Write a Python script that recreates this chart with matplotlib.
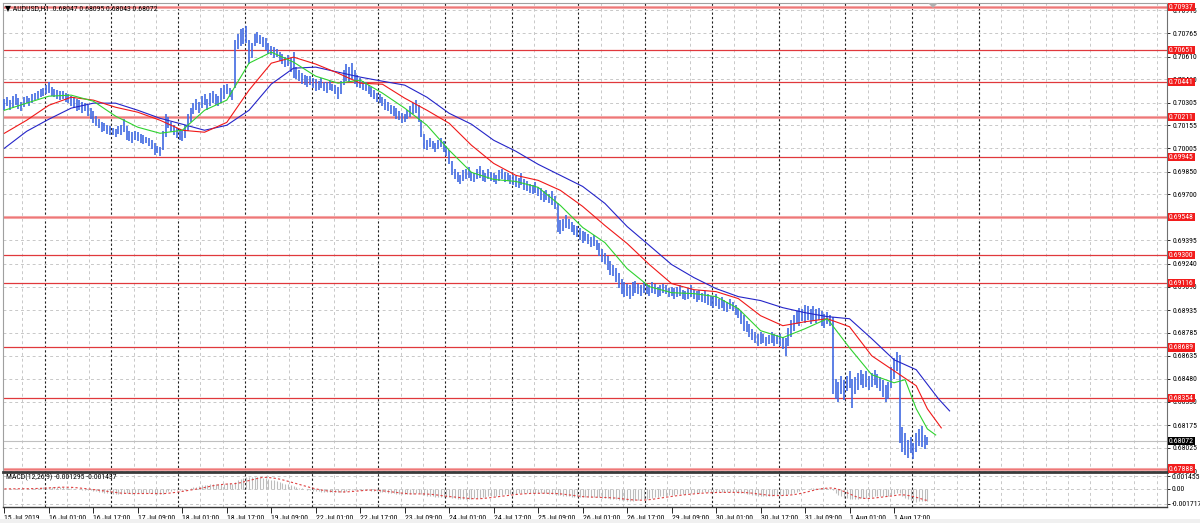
import numpy as np
import pandas as pd
import matplotlib
matplotlib.use("Agg")
import matplotlib.pyplot as plt
from matplotlib import font_manager as fm
from matplotlib.transforms import blended_transform_factory
from matplotlib.patches import Rectangle, Polygon

# ---------------- data (prices in points, 1 point = 0.00001) ----------------
POINT = 1e-5

# hourly bars 15 Jul 2019 09:00 ... 2 Aug 2019 05:00 (weekends skipped)
LOW_PTS = [
    # 15 Jul
    70260, 70280, 70255, 70270, 70290, 70265, 70250, 70275, 70300, 70280, 70300, 70320, 70330, 70340, 70350,
    # 16 Jul
    70360, 70370, 70350, 70340, 70330, 70320, 70330, 70310, 70300, 70280, 70270, 70250, 70260, 70240, 70250, 70220,
    70200, 70170, 70150, 70140, 70110, 70120, 70100, 70090,
    # 17 Jul
    70090, 70080, 70100, 70090, 70110, 70060, 70050, 70040, 70060, 70050, 70040, 70030, 70040, 70020, 70000, 69960,
    69970, 69950, 69990, 70080, 70140, 70110, 70090, 70070,
    # 18 Jul
    70060, 70050, 70070, 70120, 70180, 70230, 70260, 70240, 70270, 70290, 70260, 70280, 70300, 70290, 70280, 70300,
    70330, 70360, 70340, 70320, 70400, 70660, 70680, 70690,
    # 19 Jul
    70700, 70560, 70600, 70680, 70700, 70690, 70670, 70650, 70630, 70620, 70600, 70610, 70580, 70560, 70540, 70550,
    70510, 70470, 70460, 70450, 70430, 70420, 70410, 70420,
    # 22 Jul
    70400, 70380, 70390, 70400, 70380, 70370, 70390, 70380, 70360, 70330, 70360, 70420, 70450, 70440, 70460, 70430,
    70410, 70400, 70390, 70380, 70360, 70340, 70330, 70310,
    # 23 Jul
    70300, 70280, 70260, 70250, 70230, 70220, 70200, 70190, 70170, 70180, 70200, 70210, 70230, 70240, 70180, 70080,
    70000, 69990, 70010, 70000, 69980, 70000, 70010, 69980,
    # 24 Jul
    69950, 69900, 69830, 69800, 69780, 69770, 69790, 69800, 69810, 69790, 69780, 69800, 69810, 69790, 69780, 69800,
    69790, 69780, 69770, 69790, 69800, 69780, 69790, 69770,
    # 25 Jul
    69760, 69750, 69740, 69760, 69730, 69720, 69710, 69700, 69710, 69690, 69660, 69650, 69660, 69640, 69630, 69600,
    69450, 69440, 69460, 69480, 69470, 69450, 69430, 69420,
    # 26 Jul
    69400, 69380, 69390, 69370, 69350, 69360, 69330, 69290, 69250, 69240, 69200, 69170, 69160, 69120, 69080, 69040,
    69020, 69030, 69010, 69030, 69050, 69040, 69030, 69050,
    # 29 Jul
    69040, 69030, 69050, 69040, 69020, 69030, 69050, 69040, 69020, 69030, 69010, 69020, 69030, 69010, 69000, 69010,
    69020, 69010, 68990, 69000, 68990, 68980, 68970, 68960,
    # 30 Jul
    68950, 68960, 68940, 68950, 68930, 68920, 68940, 68930, 68900, 68880, 68840, 68800, 68790, 68760, 68740, 68720,
    68700, 68710, 68720, 68700, 68710, 68720, 68700, 68710,
    # 31 Jul
    68700, 68680, 68630, 68700, 68760, 68800, 68840, 68830, 68860, 68850, 68870, 68840, 68860, 68850, 68870, 68830,
    68820, 68840, 68830, 68380, 68350, 68330, 68380, 68340,
    # 1 Aug
    68400, 68420, 68290, 68380, 68410, 68440, 68420, 68430, 68410, 68430, 68440, 68420, 68400, 68360, 68330, 68350,
    68420, 68480, 68530, 68060, 68000, 67980, 67960, 67990,
    # 2 Aug
    67950, 68000, 68040, 68030, 68020, 68043,
]
HIGH_PTS = [
    # 15 Jul
    70330, 70345, 70320, 70350, 70360, 70335, 70310, 70340, 70350, 70335, 70365, 70370, 70380, 70395, 70400,
    # 16 Jul
    70420, 70440, 70410, 70395, 70390, 70380, 70385, 70370, 70360, 70350, 70340, 70330, 70320, 70310, 70300, 70290,
    70270, 70250, 70220, 70200, 70180, 70170, 70160, 70150,
    # 17 Jul
    70140, 70130, 70150, 70160, 70200, 70150, 70120, 70110, 70120, 70110, 70100, 70090, 70080, 70070, 70060, 70040,
    70020, 70010, 70120, 70230, 70210, 70180, 70160, 70140,
    # 18 Jul
    70130, 70120, 70160, 70230, 70270, 70300, 70330, 70310, 70350, 70360, 70330, 70370, 70380, 70360, 70350, 70400,
    70420, 70430, 70400, 70390, 70720, 70760, 70790, 70800,
    # 19 Jul
    70810, 70720, 70700, 70760, 70770, 70750, 70740, 70730, 70700, 70680, 70670, 70660, 70640, 70630, 70610, 70620,
    70600, 70640, 70540, 70520, 70500, 70490, 70480, 70480,
    # 22 Jul
    70470, 70460, 70450, 70470, 70440, 70440, 70450, 70430, 70420, 70410, 70450, 70520, 70560, 70540, 70570, 70520,
    70490, 70470, 70450, 70440, 70420, 70410, 70390, 70370,
    # 23 Jul
    70360, 70340, 70330, 70310, 70290, 70280, 70270, 70250, 70240, 70230, 70260, 70280, 70300, 70320, 70290, 70190,
    70100, 70060, 70070, 70050, 70040, 70060, 70070, 70050,
    # 24 Jul
    70020, 69990, 69920, 69870, 69850, 69830, 69860, 69870, 69880, 69850, 69840, 69870, 69890, 69860, 69840, 69870,
    69850, 69840, 69830, 69860, 69870, 69850, 69840, 69830,
    # 25 Jul
    69830, 69820, 69810, 69840, 69800, 69790, 69770, 69760, 69780, 69750, 69740, 69720, 69730, 69700, 69720, 69690,
    69640, 69530, 69540, 69560, 69540, 69520, 69500, 69490,
    # 26 Jul
    69480, 69460, 69450, 69440, 69420, 69430, 69400, 69380, 69340, 69310, 69290, 69260, 69230, 69210, 69180, 69140,
    69120, 69110, 69100, 69120, 69130, 69110, 69100, 69120,
    # 29 Jul
    69110, 69100, 69120, 69110, 69090, 69100, 69110, 69100, 69080, 69090, 69080, 69090, 69100, 69070, 69060, 69080,
    69100, 69070, 69060, 69070, 69050, 69060, 69040, 69030,
    # 30 Jul
    69030, 69040, 69010, 69020, 69000, 68990, 69010, 68990, 68970, 68950, 68930, 68900, 68860, 68840, 68810, 68790,
    68780, 68790, 68780, 68760, 68770, 68790, 68780, 68770,
    # 31 Jul
    68780, 68760, 68750, 68820, 68870, 68900, 68930, 68950, 68940, 68970, 68960, 68940, 68960, 68940, 68950, 68930,
    68910, 68920, 68900, 68890, 68480, 68460, 68500, 68470,
    # 1 Aug
    68500, 68530, 68480, 68490, 68520, 68540, 68510, 68530, 68500, 68520, 68540, 68510, 68490, 68470, 68440, 68460,
    68560, 68620, 68660, 68640, 68160, 68120, 68080, 68100,
    # 2 Aug
    68060, 68120, 68150, 68170, 68110, 68095,
]

# Alligator lines (bar index, points)
JAW_IDX = [0, 8, 16, 24, 32, 40, 48, 56, 64, 72, 80, 88, 96, 104, 112, 120, 128, 136, 144, 152, 160, 168, 176, 184,
           192, 200, 208, 216, 224, 232, 240, 248, 256, 264, 272, 280, 288, 296, 304, 312, 320, 328, 336, 340]
JAW_PTS = [70004, 70116, 70196, 70269, 70302, 70302, 70255, 70202, 70163, 70123, 70156, 70255, 70428, 70533, 70540,
           70507, 70474, 70447, 70421, 70341, 70235, 70163, 70057, 69984, 69898, 69825, 69752, 69640, 69487, 69362,
           69236, 69150, 69077, 69024, 68998, 68951, 68918, 68892, 68878, 68746, 68607, 68541, 68349, 68269]
TEETH_IDX = [0, 8, 16, 24, 32, 40, 48, 56, 64, 72, 80, 88, 96, 104, 112, 120, 128, 136, 144, 152, 160, 168, 176, 184,
             192, 200, 208, 216, 224, 232, 240, 248, 256, 264, 272, 280, 288, 296, 304, 312, 320, 328, 332, 337]
TEETH_PTS = [70103, 70189, 70288, 70341, 70322, 70275, 70242, 70189, 70123, 70110, 70175, 70388, 70566, 70606, 70560,
             70500, 70434, 70427, 70335, 70255, 70169, 70024, 69904, 69825, 69792, 69726, 69620, 69494, 69375, 69236,
             69110, 69070, 69057, 69011, 68898, 68832, 68858, 68878, 68825, 68633, 68534, 68435, 68283, 68157]
LIPS_IDX = [0, 8, 16, 24, 32, 40, 48, 56, 64, 72, 80, 88, 96, 104, 112, 120, 128, 136, 144, 152, 160, 168, 176, 184,
            192, 200, 208, 216, 224, 232, 240, 248, 256, 264, 272, 280, 288, 296, 304, 312, 320, 324, 328, 332, 335]
LIPS_PTS = [70255, 70302, 70348, 70355, 70315, 70216, 70143, 70103, 70123, 70255, 70322, 70566, 70639, 70573, 70480,
            70434, 70454, 70368, 70269, 70156, 69991, 69845, 69798, 69785, 69746, 69626, 69481, 69381, 69209, 69090,
            69050, 69044, 69024, 68945, 68799, 68753, 68812, 68878, 68686, 68508, 68455, 68475, 68283, 68150, 68110]

LEVELS = [0.70937, 0.70651, 0.70441, 0.70211, 0.69945, 0.69548, 0.69300, 0.69116, 0.68689, 0.68354, 0.67888]
SOFT_LEVELS = [0.70937, 0.70211, 0.69548, 0.67888]
CURRENT = 0.68072

PRICE_TICKS = [0.70915, 0.70765, 0.70610, 0.70460, 0.70305, 0.70155, 0.70005, 0.69850, 0.69700, 0.69545, 0.69395,
               0.69240, 0.69090, 0.68935, 0.68785, 0.68635, 0.68480, 0.68330, 0.68175, 0.68025, 0.67870]
HIDDEN_TICKS = [0.69545]   # fully covered by a level label in the reference
MACD_TICKS = [0.001455, 0.0, -0.001717]
MACD_TICK_LABELS = ['0.001455', '0.00', '-0.001717']

TIME_IDX = [0, 16, 32, 48, 64, 80, 96, 112, 128, 144, 160, 176, 192, 208, 224, 240, 256, 272, 288, 304, 320]
TIME_LABELS = ['15 Jul 2019', '16 Jul 01:00', '16 Jul 17:00', '17 Jul 09:00', '18 Jul 01:00', '18 Jul 17:00',
               '19 Jul 09:00', '22 Jul 01:00', '22 Jul 17:00', '23 Jul 09:00', '24 Jul 01:00', '24 Jul 17:00',
               '25 Jul 09:00', '26 Jul 01:00', '26 Jul 17:00', '29 Jul 09:00', '30 Jul 01:00', '30 Jul 17:00',
               '31 Jul 09:00', '1 Aug 01:00', '1 Aug 17:00']
DAY_START_IDX = [15, 39, 63, 87, 111, 135, 159, 183, 207, 231, 255, 279, 303, 327, 351]

TITLE = '\u25bc AUDUSD,H1  0.68047 0.68095 0.68043 0.68072'
MACD_TITLE = 'MACD(12,26,9) -0.001295 -0.001437'

# ---------------- font ----------------
avail = {f.name for f in fm.fontManager.ttflist}
FAM, FS = 'DejaVu Sans', 4.6
for fam, size in [('Liberation Sans Narrow', 5.8), ('Roboto Condensed', 5.6), ('Arial Narrow', 5.8),
                  ('Archivo Narrow', 5.6)]:
    if fam in avail:
        FAM, FS = fam, size
        break
plt.rcParams['font.family'] = [FAM, 'DejaVu Sans']

# ---------------- derived ----------------
low = np.array(LOW_PTS) * POINT
high = np.array(HIGH_PTS) * POINT
idx = np.arange(len(low))
median = pd.Series((low + high) / 2)
macd = median.ewm(span=12, adjust=False).mean() - median.ewm(span=26, adjust=False).mean()
signal = macd.rolling(9, min_periods=1).mean()

# ---------------- layout ----------------
W, H = 1200, 523
fig = plt.figure(figsize=(W / 100, H / 100), dpi=100)
fig.patch.set_facecolor('white')


def box(l, t, r, b):
    return [l / W, 1 - b / H, (r - l) / W, (b - t) / H]


ax = fig.add_axes(box(3, 3, 1167, 472))
axm = fig.add_axes(box(3, 472, 1167, 507))

XMIN, XMAX = -0.5, 418.2
YMIN, YMAX = 0.678655, 0.709636
for a in (ax, axm):
    a.set_xlim(XMIN, XMAX)
    a.set_facecolor('white')
ax.set_ylim(YMIN, YMAX)
axm.set_ylim(-0.00207, 0.00193)

GRID = '#C8C8C8'
grid_x = np.arange(7, XMAX, 8)
for a in (ax, axm):
    for gx in grid_x:
        if gx not in DAY_START_IDX:
            a.axvline(gx - 0.5, color=GRID, lw=0.7, ls=(0, (3, 3)), zorder=0)
    for dx in DAY_START_IDX:
        a.axvline(dx - 0.5, color='#202020', lw=0.8, ls=(0, (2, 2)), zorder=1)
for p in PRICE_TICKS:
    ax.axhline(p, color=GRID, lw=0.7, ls=(0, (3, 3)), zorder=0)
for m in MACD_TICKS:
    axm.axhline(m, color=GRID, lw=0.7, ls=(0, (3, 3)), zorder=0)

# levels
for lv in LEVELS:
    if lv in SOFT_LEVELS:
        ax.axhline(lv, color='#F4A6A6', lw=2.2, zorder=2)
        ax.axhline(lv, color='#EE6E6E', lw=0.6, zorder=2)
    else:
        ax.axhline(lv, color='#E0383C', lw=0.9, zorder=2)
ax.axhline(CURRENT, color='#C0C0C0', lw=0.8, zorder=2)

# bars
ax.vlines(idx, low, high, color='#4169E1', lw=1.2, zorder=4)

# alligator
ax.plot(JAW_IDX, np.array(JAW_PTS) * POINT, color='#2424C8', lw=0.8, zorder=5)
ax.plot(TEETH_IDX, np.array(TEETH_PTS) * POINT, color='#F01818', lw=0.8, zorder=5)
ax.plot(LIPS_IDX, np.array(LIPS_PTS) * POINT, color='#2FD22F', lw=0.8, zorder=5)

# macd
axm.vlines(idx, 0, macd.values, color='#BDBDBD', lw=0.8, zorder=3)
axm.plot(idx, signal.values, color='#E04040', lw=0.8, ls=(0, (2, 2)), zorder=4)

# spines
for a in (ax, axm):
    a.spines['left'].set_color('#A0A0A0')
    a.spines['right'].set_color('#707070')
    a.spines['left'].set_linewidth(0.8)
    a.spines['right'].set_linewidth(0.8)
ax.spines['top'].set_color('#A0A0A0')
ax.spines['top'].set_linewidth(0.8)
ax.spines['bottom'].set_visible(False)
axm.spines['top'].set_color('#3A3A3A')
axm.spines['top'].set_linewidth(2.0)
axm.spines['bottom'].set_color('#3A3A3A')
axm.spines['bottom'].set_linewidth(1.0)

ax.set_xticks([])
ax.yaxis.tick_right()
ax.set_yticks(PRICE_TICKS)
ax.set_yticklabels(['' if p in HIDDEN_TICKS else '%.5f' % p for p in PRICE_TICKS])
ax.tick_params(axis='y', length=2.5, width=0.6, pad=1.5, labelsize=FS, colors='black')

axm.yaxis.tick_right()
axm.set_yticks(MACD_TICKS)
axm.set_yticklabels(MACD_TICK_LABELS)
axm.tick_params(axis='y', length=2.5, width=0.6, pad=1.0, labelsize=FS, colors='black')
axm.set_xticks(TIME_IDX)
axm.set_xticklabels(TIME_LABELS, ha='left')
axm.tick_params(axis='x', length=4, width=0.6, pad=2, labelsize=FS, colors='black')

# price labels over the axis
tr = blended_transform_factory(fig.transFigure, ax.transData)
for lv in LEVELS:
    fig.text(1169 / W, lv, '%.5f' % lv, transform=tr, fontsize=FS, color='white', va='center', ha='left',
             bbox=dict(boxstyle='square,pad=0.15', fc='#F21C1C', ec='none'), zorder=10)
fig.text(1169 / W, CURRENT, '%.5f' % CURRENT, transform=tr, fontsize=FS, color='white', va='center', ha='left',
         bbox=dict(boxstyle='square,pad=0.15', fc='#000000', ec='none'), zorder=10)

# titles
fig.text(5 / W, 1 - 8.5 / H, TITLE, fontsize=FS, color='black', va='center', ha='left')
fig.text(6 / W, 1 - 477 / H, MACD_TITLE, fontsize=FS, color='black', va='center', ha='left')

# chart-shift marker and bottom status strip
fig.patches.append(Polygon([(928 / W, 1 - 3 / H), (938 / W, 1 - 3 / H), (933 / W, 1 - 8 / H)],
                           closed=True, transform=fig.transFigure, fc='#B0B0B0', ec='none'))
fig.patches.append(Rectangle((0, 0), 1, 4 / H, transform=fig.transFigure, fc='#F0F0F0', ec='none'))

fig.savefig('out.png', dpi=100, facecolor='white')
